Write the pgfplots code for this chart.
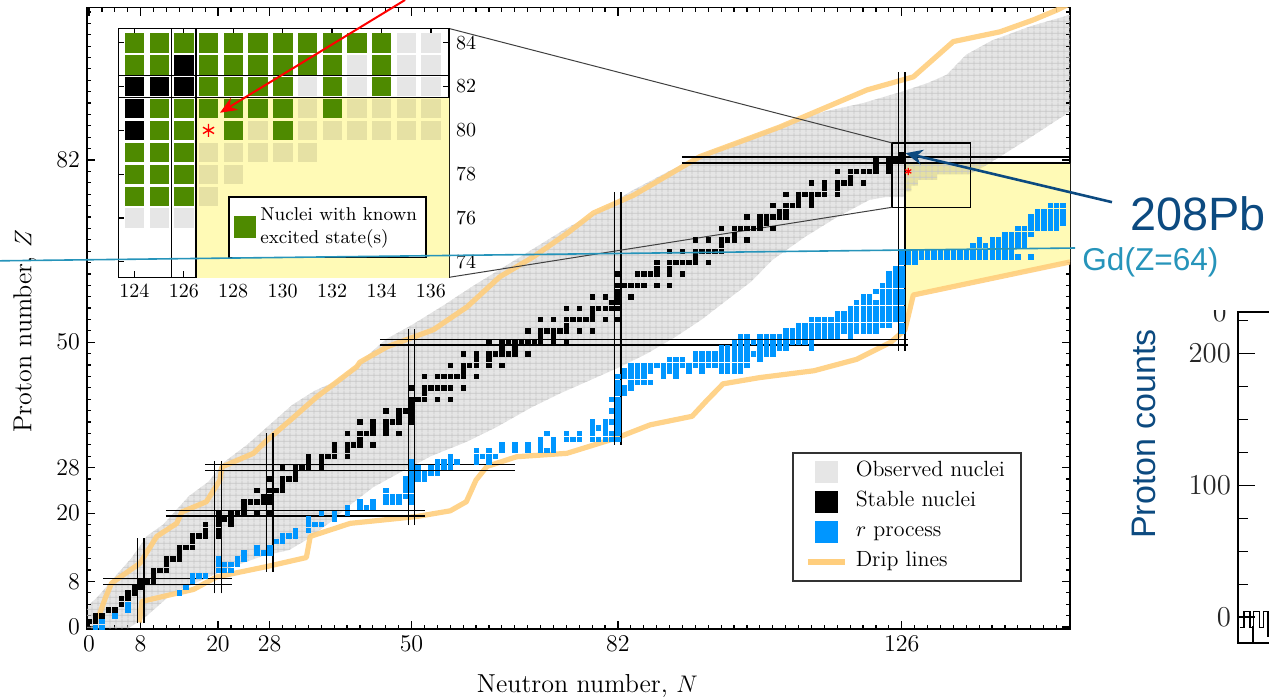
\documentclass[border=0pt]{standalone}
\usepackage{fontspec}
\usepackage{pgfplots}
\usepackage{pgfplotstable}
\pgfplotsset{compat=1.18}
\usetikzlibrary{patterns.meta,arrows.meta}
\newfontfamily\arialfont{Liberation Sans}
\definecolor{obsgrey}{RGB}{230,230,230}
\definecolor{obsyel}{RGB}{230,225,164}
\definecolor{rblue}{RGB}{0,150,255}
\definecolor{dripc}{RGB}{255,206,125}
\definecolor{yel}{RGB}{255,250,182}
\definecolor{exgreen}{RGB}{78,138,0}
\definecolor{pbblue}{RGB}{12,74,128}
\definecolor{tealc}{RGB}{38,148,186}

\tikzdeclarepattern{
  name=cellgrid,
  bounding box={(0pt,0pt) and (3.225pt,2.8475pt)},
  tile size={(3.225pt,2.8475pt)},
  code={\draw[line width=0.35pt] (1.6125pt,0pt) -- (1.6125pt,2.8475pt) (0pt,1.42375pt) -- (3.225pt,1.42375pt);}
}

\pgfplotsset{
  cell/.style n args={2}{forget plot, only marks, mark=square*, color=#1, mark size=#2,
    mark options={draw=#1, fill=#1, line width=0.3pt, solid}},
}

% observed nuclei region (outline of the grey band)
\pgfplotstableread{
N Z
-0.31 -0.28
-0.31 3.5
1.5 5.5
4 8.8
6.5 12
9 16
11.5 18
13.5 20.5
15.5 23
18.5 25.5
21 29
24.5 32
28 35.5
31.5 39
35 41.5
38 43
42 46.5
46 50.5
50 53
55 56.5
59 59.5
64 63
69 66.5
74 70
79 73
84 76.5
89 79.5
95 83
101 85.5
108 88.5
114 90.5
120 92
126 94
130 95.5
133 97
136 100.5
140 103
146 105.5
152.09 107.5
152.09 90.5
146 86
139 81
136.5 79.5
131.5 79.5
131.5 78.5
128.5 78.5
128.5 77.5
127.5 77.5
127.5 76.5
126.5 76.5
126.5 75.5
123.5 75.5
121 75
116 72
111 68.5
106 64.5
102.5 60.5
99 57.5
95 54
91 51
86.5 48
82 45.5
78 43.5
73 41
68.5 38.5
63 35
58.5 32.5
53 30
48 27
44 24.5
40 21
37.5 18.5
34 15.5
31 13.5
27 12.5
22 10.5
17 8
13 6
10.5 3.5
8.5 1.5
6 -0.28
}\obsregion

% proton drip line
\pgfplotstableread{
N Z
1.4 1.5
2.5 5
3.5 7.7
7.9 11.2
10.5 15.9
13.6 18.2
14.4 20.2
18.2 22
20.3 25.8
20.6 28.1
25.5 30.5
27.6 32.8
31.2 36.3
35.3 40.4
37.9 42.6
41.5 45.7
42 46.5
46.2 49.2
53.4 52.2
58.6 56.2
63.7 61.5
68.9 65
74.1 69.1
78.2 72.7
84.4 75.8
94.7 82.6
107.1 87.8
120.6 94.3
127.8 96.6
134 102.8
141.2 104.5
146.4 106.6
150 108.3
153 110
}\pdrip

% neutron drip line
\pgfplotstableread{
N Z
7.8 0.8
8.2 4.5
12 5.5
16.2 6.6
19.8 8.8
27.5 10.6
33.7 12.2
34.3 15.9
40.5 18.2
50.8 19.4
56 20.4
58.5 22
60 25.8
61.7 28.2
66.3 29.9
74.1 30.5
81.8 33.2
87 35.5
93.5 37
95.8 39.8
98.3 42.7
104 43.8
112.4 45
119 47
124.3 50
126.5 52.2
127.8 58.3
152.1 64.1
}\ndrip

% yellow region
\pgfplotstableread{
N Z
126.5 81.5
152.09 81.5
152.09 64.1
127.8 58.3
126.5 51.8
}\yelregion

\newcommand{\magic}[4]{\addplot[forget plot, black, line width=0.7pt] coordinates {(#1,#2) (#3,#4)};}

\begin{document}
\begin{tikzpicture}
% ================= MAIN CHART =================
\begin{axis}[
  at={(43.5pt,34.7pt)}, anchor=south west,
  scale only axis, width=491.5pt, height=310.55pt,
  xmin=-0.31, xmax=152.09, ymin=-0.28, ymax=108.78,
  xtick={0,8,20,28,50,82,126}, ytick={0,8,20,28,50,82},
  minor xtick={0,2,...,152}, minor ytick={0,2,...,108},
  tick align=inside, major tick length=4pt, minor tick length=2pt,
  tick style={black, line width=0.6pt},
  axis line style={line width=0.9pt},
  tick label style={font=\fontsize{12.5}{14}\selectfont},
  xlabel={Neutron number, $N$}, ylabel={Proton number, $Z$},
  label style={font=\fontsize{13}{15}\selectfont},
  xlabel style={at={(axis description cs:0.509,-0.0924)}, anchor=center},
  ylabel style={at={(axis description cs:-0.0631,0.479)}, anchor=center},
  legend cell align=left,
  legend style={at={(0.7172,0.2843)}, anchor=north west, draw=black!80, line width=0.75pt,
    fill=white, inner xsep=6pt, inner ysep=2.5pt, row sep=1pt, column sep=2pt,
    font=\fontsize{11}{13}\selectfont,
    nodes={inner sep=2pt, text height=7.5pt, text depth=2.5pt}},
]
\addlegendimage{legend image code/.code={\path[draw=none, fill=none] (0pt,-5.25pt) rectangle (18.5pt,5.25pt); \fill[obsgrey] (4pt,-5.25pt) rectangle (14.5pt,5.25pt);}}
\addlegendentry{Observed nuclei}
\addlegendimage{legend image code/.code={\path[draw=none, fill=none] (0pt,-5.25pt) rectangle (18.5pt,5.25pt); \fill[black] (4pt,-5.25pt) rectangle (14.5pt,5.25pt);}}
\addlegendentry{Stable nuclei}
\addlegendimage{legend image code/.code={\path[draw=none, fill=none] (0pt,-5.25pt) rectangle (18.5pt,5.25pt); \fill[rblue] (4pt,-5.25pt) rectangle (14.5pt,5.25pt);}}
\addlegendentry{$r$ process}
\addlegendimage{legend image code/.code={\path[draw=none, fill=none] (0pt,-5.25pt) rectangle (18.5pt,5.25pt); \draw[dripc, line width=3pt] (0pt,0pt) -- (18.5pt,0pt);}}
\addlegendentry{Drip lines}

% yellow highlight
\addplot[forget plot, draw=none, fill=yel] table {\yelregion};
% observed nuclei
\addplot[forget plot, draw=none, fill=black, fill opacity=0.1] table {\obsregion};
\addplot[forget plot, draw=none, pattern=cellgrid, pattern color=black!22] table {\obsregion};
% drip lines
\addplot[forget plot, dripc, line width=2.6pt, opacity=0.9, line join=round] table {\pdrip};
\addplot[forget plot, dripc, line width=2.6pt, opacity=0.9, line join=round] table {\ndrip};

% stable nuclei
\addplot[cell={black}{1.1pt}] coordinates {
(0,1)(1,1)(1,2)(2,2)(3,3)(4,3)(5,4)(5,5)(6,5)(6,6)(7,6)(7,7)(8,7)(8,8)(9,8)(10,8)(10,9)(10,10)(11,10)(12,10)(12,11)(12,12)(13,12)(14,12)(14,13)(14,14)(15,14)(16,14)(16,15)(16,16)(17,16)(18,16)(20,16)(18,17)(20,17)(18,18)(20,18)(22,18)(20,19)(21,19)(22,19)(20,20)(22,20)(23,20)(24,20)(26,20)(28,20)(24,21)(24,22)(25,22)(26,22)(27,22)(28,22)(27,23)(28,23)(26,24)(28,24)(29,24)(30,24)(30,25)(28,26)(30,26)(31,26)(32,26)(32,27)(30,28)(32,28)(33,28)(34,28)(36,28)(34,29)(36,29)(34,30)(36,30)(37,30)(38,30)(40,30)(38,31)(40,31)(38,32)(40,32)(41,32)(42,32)(44,32)(42,33)(40,34)(42,34)(43,34)(44,34)(46,34)(48,34)(44,35)(46,35)(42,36)(44,36)(46,36)(47,36)(48,36)(50,36)(48,37)(50,37)(46,38)(48,38)(49,38)(50,38)(50,39)(50,40)(51,40)(52,40)(54,40)(56,40)(52,41)(50,42)(52,42)(53,42)(54,42)(55,42)(56,42)(58,42)(52,44)(54,44)(55,44)(56,44)(57,44)(58,44)(60,44)(58,45)(56,46)(58,46)(59,46)(60,46)(62,46)(64,46)(60,47)(62,47)(58,48)(60,48)(62,48)(63,48)(64,48)(65,48)(66,48)(68,48)(64,49)(66,49)(62,50)(64,50)(65,50)(66,50)(67,50)(68,50)(69,50)(70,50)(72,50)(74,50)(70,51)(72,51)(68,52)(70,52)(71,52)(72,52)(73,52)(74,52)(76,52)(78,52)(74,53)(70,54)(72,54)(74,54)(75,54)(76,54)(77,54)(78,54)(80,54)(82,54)(78,55)(74,56)(76,56)(78,56)(79,56)(80,56)(81,56)(82,56)(81,57)(82,57)(78,58)(80,58)(82,58)(84,58)(82,59)(82,60)(83,60)(84,60)(85,60)(86,60)(88,60)(90,60)(82,62)(85,62)(86,62)(87,62)(88,62)(90,62)(92,62)(88,63)(90,63)(88,64)(90,64)(91,64)(92,64)(93,64)(94,64)(96,64)(94,65)(90,66)(92,66)(94,66)(95,66)(96,66)(97,66)(98,66)(98,67)(94,68)(96,68)(98,68)(99,68)(100,68)(102,68)(100,69)(98,70)(100,70)(101,70)(102,70)(103,70)(104,70)(106,70)(104,71)(105,71)(102,72)(104,72)(105,72)(106,72)(107,72)(108,72)(107,73)(108,73)(106,74)(108,74)(109,74)(110,74)(112,74)(110,75)(112,75)(108,76)(110,76)(111,76)(112,76)(113,76)(114,76)(116,76)(114,77)(116,77)(112,78)(114,78)(116,78)(117,78)(118,78)(120,78)(118,79)(116,80)(118,80)(119,80)(120,80)(121,80)(122,80)(124,80)(122,81)(124,81)(122,82)(124,82)(125,82)(126,82)(126,83)
};

% r process
\addplot[cell={rblue}{1.1pt}] coordinates {
(1,0)(2,0)(2,1)(4,2)(6,3)(6,4)(14,6)(15,7)(16,8)(16,9)(17,9)(18,9)(20,10)(21,10)(22,10)(20,11)(21,11)(22,11)(23,11)(20,12)(23,12)(24,12)(24,13)(26,13)(27,13)(28,13)(26,14)(28,14)(29,15)(30,15)(30,16)(31,16)(32,16)(32,17)(34,17)(34,18)(35,18)(36,18)(34,19)(38,19)(36,20)(38,20)(40,20)(40,21)(42,21)(43,21)(44,21)(42,22)(44,22)(46,22)(47,22)(48,22)(50,22)(46,23)(47,23)(48,23)(49,23)(50,23)(46,24)(49,24)(50,24)(49,25)(50,25)(49,26)(50,26)(51,26)(52,26)(50,27)(51,27)(52,27)(53,27)(54,27)(50,28)(51,28)(53,28)(54,28)(55,28)(56,28)(50,29)(54,29)(55,29)(56,29)(57,29)(60,29)(62,29)(56,30)(60,30)(61,30)(62,30)(63,30)(60,31)(62,31)(64,31)(66,31)(68,31)(70,31)(71,31)(72,31)(64,32)(66,32)(68,32)(70,32)(72,32)(70,33)(72,33)(74,33)(75,33)(76,33)(78,33)(79,33)(80,33)(81,33)(82,33)(71,34)(74,34)(76,34)(78,34)(80,34)(81,34)(82,34)(78,35)(79,35)(80,35)(82,35)(78,36)(80,36)(81,36)(82,36)(82,37)(81,38)(82,38)(82,39)(81,40)(82,40)(82,41)(83,41)(82,42)(83,42)(84,42)(82,43)(84,43)(85,43)(86,43)(87,43)(82,44)(83,44)(84,44)(85,44)(86,44)(89,44)(91,44)(83,45)(84,45)(85,45)(86,45)(87,45)(89,45)(90,45)(91,45)(93,45)(95,45)(98,45)(99,45)(100,45)(101,45)
(84,46)(85,46)(86,46)(87,46)(88,46)(89,46)(90,46)(91,46)(92,46)(93,46)(94,46)(95,46)(96,46)(97,46)(98,46)(99,46)(100,46)(101,46)(102,46)
(90,47)(91,47)(92,47)(94,47)(95,47)(96,47)(97,47)(98,47)(99,47)(100,47)(101,47)(102,47)(104,47)
(94,48)(95,48)(96,48)(97,48)(98,48)(99,48)(100,48)(101,48)(102,48)(103,48)(104,48)(105,48)(106,48)
(98,49)(99,49)(100,49)(101,49)(102,49)(104,49)(105,49)(106,49)(107,49)(108,49)(112,49)
(100,50)(101,50)(102,50)(103,50)(104,50)(105,50)(106,50)(107,50)(108,50)(109,50)(110,50)(111,50)(112,50)
(101,51)(102,51)(104,51)(105,51)(106,51)(107,51)(108,51)(109,51)(110,51)(111,51)(112,51)(113,51)(114,51)(115,51)(116,51)(118,51)
(108,52)(109,52)(110,52)(111,52)(112,52)(113,52)(114,52)(115,52)(116,52)(117,52)(118,52)(119,52)(120,52)(121,52)(122,52)(126,52)
(110,53)(111,53)(112,53)(113,53)(114,53)(115,53)(116,53)(117,53)(118,53)(119,53)(120,53)(121,53)(122,53)(123,53)(124,53)(126,53)
(112,54)(113,54)(114,54)(115,54)(116,54)(117,54)(118,54)(119,54)(120,54)(121,54)(122,54)(123,54)(124,54)(125,54)(126,54)
(116,55)(117,55)(118,55)(119,55)(120,55)(121,55)(122,55)(123,55)(124,55)(125,55)(126,55)
(118,56)(119,56)(120,56)(121,56)(122,56)(123,56)(124,56)(125,56)(126,56)
(119,57)(120,57)(121,57)(122,57)(123,57)(124,57)(125,57)(126,57)
(120,58)(121,58)(123,58)(124,58)(125,58)(126,58)
(122,59)(123,59)(124,59)(125,59)(126,59)
(123,60)(124,60)(125,60)(126,60)
(124,61)(125,61)(126,61)(124,62)(125,62)(126,62)(125,63)(126,63)(126,64)(127,64)(128,64)
(126,65)(127,65)(128,65)(129,65)(130,65)(131,65)(132,65)(133,65)(134,65)(135,65)(136,65)(137,65)(138,65)(139,65)(140,65)(141,65)(142,65)(143,65)(144,65)(146,65)
(126,66)(127,66)(128,66)(129,66)(130,66)(131,66)(132,66)(133,66)(134,66)(135,66)(136,66)(137,66)(138,66)(139,66)(140,66)(141,66)(142,66)(143,66)
(137,67)(138,67)(139,67)(140,67)(141,67)(142,67)(143,67)(144,67)(145,67)
(138,68)(140,68)(141,68)(142,68)(143,68)(144,68)(145,68)
(142,69)(143,69)(144,69)(145,69)(146,69)
(144,70)(145,70)(146,70)(147,70)(148,70)(149,70)(150,70)
(146,71)(147,71)(148,71)(149,71)(150,71)(151,71)
(146,72)(147,72)(148,72)(149,72)(150,72)(151,72)
(147,73)(148,73)(149,73)(150,73)(151,73)
(149,74)(150,74)(151,74)
};

% red asterisk (127,80)
\addplot[forget plot, only marks, mark=asterisk, mark size=1.8pt, red, line width=0.6pt] coordinates {(127,80)};

% magic number lines
\magic{2.2}{7.5}{22.2}{7.5}\magic{2.2}{8.5}{22.2}{8.5}
\magic{7.5}{0.7}{7.5}{15.6}\magic{8.5}{0.7}{8.5}{15.6}
\magic{11.9}{19.5}{52.1}{19.5}\magic{11.9}{20.5}{52.1}{20.5}
\magic{19.5}{5.9}{19.5}{29.2}\magic{20.5}{5.9}{20.5}{29.2}
\magic{18}{27.5}{66}{27.5}\magic{18}{28.5}{66}{28.5}
\magic{27.5}{9.7}{27.5}{34.1}\magic{28.5}{9.7}{28.5}{34.1}
\magic{45.1}{49.5}{127}{49.5}\magic{45.1}{50.5}{127}{50.5}
\magic{49.5}{17.9}{49.5}{52.3}\magic{50.5}{17.9}{50.5}{52.3}
\magic{81.5}{32}{81.5}{76.4}\magic{82.5}{32}{82.5}{76.4}
\magic{91.9}{81.5}{152.09}{81.5}\magic{91.9}{82.5}{152.09}{82.5}
\magic{125.5}{48.5}{125.5}{97.5}\magic{126.5}{48.5}{126.5}{97.5}

% zoom box and connecting lines
\addplot[forget plot, black, line width=0.6pt] coordinates {(124.5,73.7)(136.7,73.7)(136.7,85)(124.5,85)(124.5,73.7)};
\addplot[forget plot, black!75, line width=0.5pt] coordinates {(55.8,105.1)(124.5,85)};
\addplot[forget plot, black!75, line width=0.5pt] coordinates {(55.8,61.4)(124.5,73.7)};

\coordinate (redA) at (axis cs:49,110.1);
\coordinate (redB) at (axis cs:20.3,90.3);
\coordinate (blA) at (axis cs:158.6,74.6);
\coordinate (blB) at (axis cs:126.6,83.2);
\coordinate (tealA) at (axis cs:-13.8,64.3);
\coordinate (tealB) at (axis cs:152.9,66.55);
\end{axis}

% ================= INSET =================
\begin{axis}[
  at={(59.15pt,210.35pt)}, anchor=south west, scale only axis,
  width=165.35pt, height=124.5pt,
  xmin=123.35, xmax=136.73, ymin=73.29, ymax=84.66,
  xtick={124,126,...,136}, ytick={74,76,...,84},
  yticklabel pos=right,
  tick align=inside, major tick length=3pt,
  tick style={black, line width=0.6pt},
  axis line style={line width=0.75pt},
  tick label style={font=\fontsize{10.2}{12}\selectfont},
  axis background/.style={fill=white},
  legend cell align=left,
  legend style={at={(0.332,0.3265)}, anchor=north west, draw=black, line width=0.75pt,
    inner xsep=2.5pt, inner ysep=3.5pt, font=\fontsize{9.3}{11.5}\selectfont,
    nodes={inner sep=2pt, align=left}},
]
\addlegendimage{legend image code/.code={\fill[exgreen] (0pt,-5.25pt) rectangle (10.5pt,5.25pt);}}
\addlegendentry{Nuclei with known\\excited state(s)}
\addplot[forget plot, draw=none, fill=yel] coordinates {(126.5,70)(140,70)(140,81.5)(126.5,81.5)};
% observed (grey) cells on white
\addplot[cell={obsgrey}{4.6pt}] coordinates {
(135,84)(136,84)(133,83)(135,83)(136,83)(131,82)(133,82)(135,82)(136,82)
(124,76)(125,76)(126,76)
};
% observed (grey) cells on the yellow area
\addplot[cell={obsyel}{4.6pt}] coordinates {
(131,81)(133,81)(134,81)(135,81)(136,81)
(129,80)(131,80)(132,80)(133,80)(134,80)(135,80)(136,80)
(127,79)(128,79)(129,79)(130,79)(131,79)(127,78)(128,78)(127,77)
};
% nuclei with known excited states
\addplot[cell={exgreen}{4.6pt}] coordinates {
(124,84)(125,84)(126,84)(127,84)(128,84)(129,84)(130,84)(131,84)(132,84)(133,84)(134,84)
(124,83)(125,83)(127,83)(128,83)(129,83)(130,83)(131,83)(132,83)(134,83)
(127,82)(128,82)(129,82)(130,82)(132,82)(134,82)
(125,81)(126,81)(127,81)(128,81)(129,81)(130,81)(132,81)
(125,80)(126,80)(128,80)(130,80)
(124,79)(125,79)(126,79)(124,78)(125,78)(126,78)(124,77)(125,77)(126,77)
};
% stable
\addplot[cell={black}{4.6pt}] coordinates {
(124,80)(124,81)(124,82)(125,82)(126,82)(126,83)
};
\addplot[forget plot, only marks, mark=asterisk, mark size=3.2pt, red, line width=0.7pt] coordinates {(127,80)};
% magic lines
\addplot[forget plot, black, line width=0.75pt] coordinates {(120,81.5)(140,81.5)};
\addplot[forget plot, black, line width=0.75pt] coordinates {(120,82.5)(140,82.5)};
\addplot[forget plot, black, line width=0.75pt] coordinates {(125.5,70)(125.5,90)};
\addplot[forget plot, black, line width=0.75pt] coordinates {(126.5,70)(126.5,90)};
\end{axis}

% ================= SECOND (CROPPED) CHART =================
\begin{axis}[
  at={(619pt,27.5pt)}, anchor=south west, scale only axis,
  width=300pt, height=165.5pt,
  xmin=0, xmax=100, ymin=-19.7, ymax=231.6,
  ytick={0,100,200}, minor ytick={25,50,75,125,150,175,225},
  xtick={2.5}, xticklabels={},
  ytick pos=left, xtick pos=bottom,
  tick align=inside, major tick length=8.3pt, minor tick length=5pt,
  tick style={black, line width=0.6pt}, axis line style={line width=0.75pt},
  yticklabel style={font=\fontsize{14}{16}\selectfont, text=black!85},
]
\addplot[const plot, black, line width=0.6pt] coordinates {
(0.3,-8)(1,4)(2,-8)(2.6,4)(3.6,-8)(4.2,4)(5,-15)(6,-15)(7,4)(8,-12)(9,4)(10,-10)
};
\end{axis}
% cropped top label of the second chart (only its lower part is visible)
\begin{scope}
\clip (600pt,0pt) rectangle (634.5pt,194pt);
\node[anchor=base east, inner sep=0pt, text=black!85, font=\fontsize{14}{16}\selectfont] at (613.5pt,188.2pt) {0};
\end{scope}

% ================= ANNOTATIONS =================
\draw[tealc, line width=0.8pt] (tealA) -- (tealB);
\draw[red, line width=1pt, -{Stealth[length=8.5pt, width=7pt]}] (redA) -- (redB);
\draw[pbblue, line width=1.3pt, -{Stealth[length=8.5pt, width=7.5pt]}] (blA) -- (blB);
\node[anchor=base west, inner sep=0pt, text=pbblue, font=\arialfont\fontsize{23.4}{26}\selectfont] at (565pt,234pt) {208Pb};
\node[anchor=base west, inner sep=0pt, text=tealc, font=\arialfont\fontsize{15.8}{18}\selectfont] at (541pt,213.6pt) {Gd(Z=64)};
\node[rotate=90, anchor=center, inner sep=0pt, text=pbblue, font=\arialfont\fontsize{17}{20}\selectfont] at (572pt,132pt) {Proton counts};

\pgfresetboundingbox
\useasboundingbox (0,0) rectangle (634.5pt,349pt);
\end{tikzpicture}
\end{document}
